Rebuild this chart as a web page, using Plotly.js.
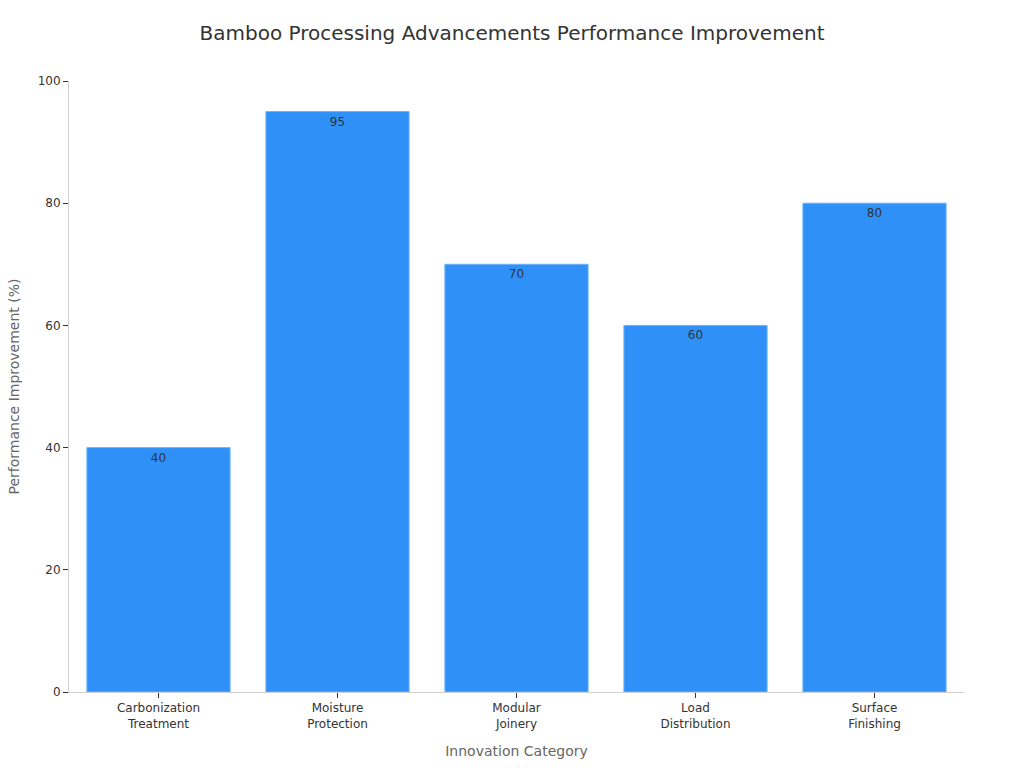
<!DOCTYPE html>
<html><head><meta charset="utf-8">
<script src="https://cdn.plot.ly/plotly-3.0.1.min.js"></script>
<style>html,body{margin:0;padding:0;background:#fff}#chart{width:1024px;height:768px}</style>
</head><body><div id="chart"></div>
<script>
const categories = ["Carbonization<br>Treatment","Moisture<br>Protection","Modular<br>Joinery","Load<br>Distribution","Surface<br>Finishing"];
const values = [40, 95, 70, 60, 80];
const valueLabels = ["40","95","70","60","80"];

const trace = {
  type: 'bar',
  x: categories,
  y: values,
  text: valueLabels,
  textposition: 'inside',
  insidetextanchor: 'end',
  textfont: {family: 'DejaVu Sans', size: 12, color: '#333333'},
  marker: {color: '#2f91f7', line: {color: '#6fb3fa', width: 1}},
  hoverinfo: 'none'
};
const layout = {
  width: 1024, height: 768,
  margin: {l: 69, r: 60, t: 81, b: 76},
  paper_bgcolor: '#ffffff', plot_bgcolor: '#ffffff',
  font: {family: 'DejaVu Sans', color: '#333333', size: 12},
  title: {text: 'Bamboo Processing Advancements Performance Improvement', x: 0.5, xanchor: 'center', y: 0.957, yanchor: 'middle', font: {size: 20, color: '#333333', family: 'DejaVu Sans'}},
  bargap: 0.2,
  showlegend: false,
  xaxis: {
    title: {text: 'Innovation Category', font: {size: 14, color: '#666666'}, standoff: 16},
    showline: true, linecolor: '#d0d0d0', linewidth: 1,
    ticks: 'outside', ticklen: 5, tickcolor: '#333333',
    tickfont: {size: 12, color: '#333333'},
    showgrid: false, zeroline: false
  },
  yaxis: {
    title: {text: 'Performance Improvement (%)', font: {size: 14, color: '#666666'}, standoff: 14},
    range: [0, 100], dtick: 20,
    showline: true, linecolor: '#d0d0d0', linewidth: 1,
    ticks: 'outside', ticklen: 5, tickcolor: '#333333',
    tickfont: {size: 12, color: '#333333'},
    showgrid: false, zeroline: false
  }
};
Plotly.newPlot('chart', [trace], layout, {displayModeBar: false, staticPlot: true});
</script></body></html>
